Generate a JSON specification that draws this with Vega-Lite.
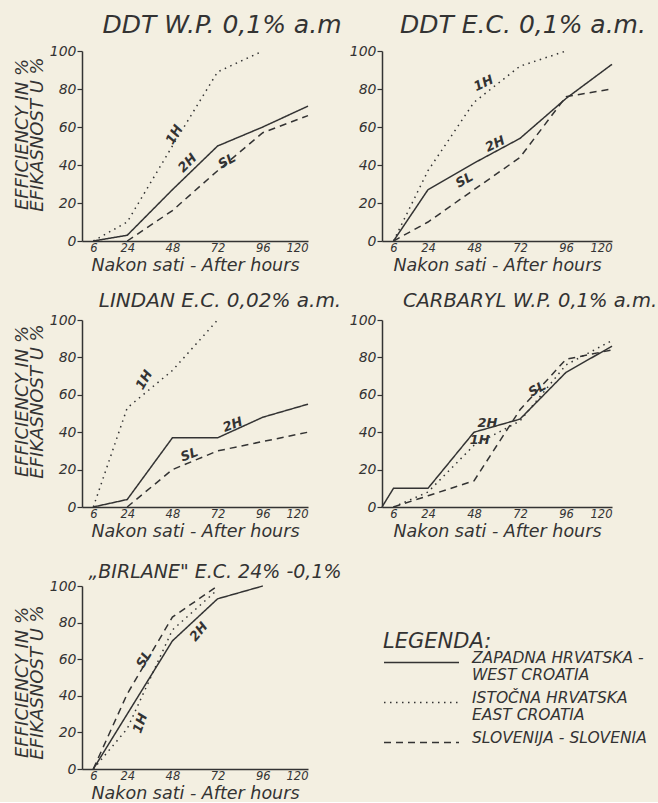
{
  "$schema": "https://vega.github.io/schema/vega-lite/v6.json",
  "background": "#f3efe1",
  "padding": {"left": 13, "top": 13, "right": 0, "bottom": 0},
  "config": {
    "view": {"stroke": null},
    "font": "DejaVu Sans",
    "axis": {"domainColor": "#333", "domainWidth": 1.5, "tickColor": "#333", "tickWidth": 1.2, "labelColor": "#333", "titleColor": "#333", "labelFont": "DejaVu Sans", "labelFontStyle": "italic", "titleFont": "DejaVu Sans", "titleFontStyle": "italic", "titleFontWeight": "normal", "grid": false, "labelOverlap": false},
    "axisX": {"labelFontSize": 11.5, "titleFontSize": 17.5, "ticks": false, "labelPadding": 1, "titlePadding": 3},
    "axisY": {"labelFontSize": 14, "tickSize": 5, "labelPadding": 1, "titleFontSize": 18, "titleLineHeight": 15, "titlePadding": 3},
    "title": {"font": "DejaVu Sans", "fontStyle": "italic", "fontWeight": "normal", "fontSize": 20, "color": "#333"},
    "text": {"font": "DejaVu Sans", "fontStyle": "italic", "fontWeight": "bold", "fontSize": 13, "fill": "#333"},
    "line": {"stroke": "#333", "strokeWidth": 1.5}
  },
  "datasets": {
    "lines": [
      {"panel": "A", "series": "2H", "hour": 6, "value": 0},
      {"panel": "A", "series": "2H", "hour": 24, "value": 3},
      {"panel": "A", "series": "2H", "hour": 48, "value": 27},
      {"panel": "A", "series": "2H", "hour": 72, "value": 50},
      {"panel": "A", "series": "2H", "hour": 96, "value": 60},
      {"panel": "A", "series": "2H", "hour": 120, "value": 71},
      {"panel": "A", "series": "1H", "hour": 6, "value": 0},
      {"panel": "A", "series": "1H", "hour": 24, "value": 10},
      {"panel": "A", "series": "1H", "hour": 48, "value": 50},
      {"panel": "A", "series": "1H", "hour": 72, "value": 89},
      {"panel": "A", "series": "1H", "hour": 96, "value": 100},
      {"panel": "A", "series": "SL", "hour": 24, "value": 0},
      {"panel": "A", "series": "SL", "hour": 48, "value": 16},
      {"panel": "A", "series": "SL", "hour": 72, "value": 37},
      {"panel": "A", "series": "SL", "hour": 96, "value": 57},
      {"panel": "A", "series": "SL", "hour": 120, "value": 66},
      {"panel": "B", "series": "2H", "hour": 6, "value": 0},
      {"panel": "B", "series": "2H", "hour": 24, "value": 27},
      {"panel": "B", "series": "2H", "hour": 48, "value": 41},
      {"panel": "B", "series": "2H", "hour": 72, "value": 54},
      {"panel": "B", "series": "2H", "hour": 96, "value": 75},
      {"panel": "B", "series": "2H", "hour": 120, "value": 93},
      {"panel": "B", "series": "1H", "hour": 6, "value": 0},
      {"panel": "B", "series": "1H", "hour": 24, "value": 37},
      {"panel": "B", "series": "1H", "hour": 48, "value": 73},
      {"panel": "B", "series": "1H", "hour": 72, "value": 92},
      {"panel": "B", "series": "1H", "hour": 96, "value": 100},
      {"panel": "B", "series": "SL", "hour": 6, "value": 0},
      {"panel": "B", "series": "SL", "hour": 24, "value": 10},
      {"panel": "B", "series": "SL", "hour": 48, "value": 27},
      {"panel": "B", "series": "SL", "hour": 72, "value": 44},
      {"panel": "B", "series": "SL", "hour": 96, "value": 76},
      {"panel": "B", "series": "SL", "hour": 120, "value": 80},
      {"panel": "C", "series": "2H", "hour": 6, "value": 0},
      {"panel": "C", "series": "2H", "hour": 24, "value": 4},
      {"panel": "C", "series": "2H", "hour": 48, "value": 37},
      {"panel": "C", "series": "2H", "hour": 72, "value": 37},
      {"panel": "C", "series": "2H", "hour": 96, "value": 48},
      {"panel": "C", "series": "2H", "hour": 120, "value": 55},
      {"panel": "C", "series": "1H", "hour": 6, "value": 0},
      {"panel": "C", "series": "1H", "hour": 24, "value": 53},
      {"panel": "C", "series": "1H", "hour": 48, "value": 73},
      {"panel": "C", "series": "1H", "hour": 72, "value": 100},
      {"panel": "C", "series": "SL", "hour": 24, "value": 0},
      {"panel": "C", "series": "SL", "hour": 48, "value": 20},
      {"panel": "C", "series": "SL", "hour": 72, "value": 30},
      {"panel": "C", "series": "SL", "hour": 96, "value": 35},
      {"panel": "C", "series": "SL", "hour": 120, "value": 40},
      {"panel": "D", "series": "2H", "hour": 0, "value": 0},
      {"panel": "D", "series": "2H", "hour": 6, "value": 10},
      {"panel": "D", "series": "2H", "hour": 24, "value": 10},
      {"panel": "D", "series": "2H", "hour": 48, "value": 40},
      {"panel": "D", "series": "2H", "hour": 72, "value": 47},
      {"panel": "D", "series": "2H", "hour": 96, "value": 72},
      {"panel": "D", "series": "2H", "hour": 120, "value": 86},
      {"panel": "D", "series": "1H", "hour": 6, "value": 0},
      {"panel": "D", "series": "1H", "hour": 24, "value": 8},
      {"panel": "D", "series": "1H", "hour": 48, "value": 33},
      {"panel": "D", "series": "1H", "hour": 72, "value": 46},
      {"panel": "D", "series": "1H", "hour": 96, "value": 76},
      {"panel": "D", "series": "1H", "hour": 120, "value": 89},
      {"panel": "D", "series": "SL", "hour": 6, "value": 0},
      {"panel": "D", "series": "SL", "hour": 24, "value": 6},
      {"panel": "D", "series": "SL", "hour": 48, "value": 14},
      {"panel": "D", "series": "SL", "hour": 72, "value": 52},
      {"panel": "D", "series": "SL", "hour": 96, "value": 79},
      {"panel": "D", "series": "SL", "hour": 120, "value": 84},
      {"panel": "E", "series": "2H", "hour": 6, "value": 0},
      {"panel": "E", "series": "2H", "hour": 24, "value": 30},
      {"panel": "E", "series": "2H", "hour": 48, "value": 70},
      {"panel": "E", "series": "2H", "hour": 72, "value": 93},
      {"panel": "E", "series": "2H", "hour": 96, "value": 100},
      {"panel": "E", "series": "1H", "hour": 6, "value": 0},
      {"panel": "E", "series": "1H", "hour": 24, "value": 22},
      {"panel": "E", "series": "1H", "hour": 48, "value": 76},
      {"panel": "E", "series": "1H", "hour": 72, "value": 98},
      {"panel": "E", "series": "SL", "hour": 6, "value": 0},
      {"panel": "E", "series": "SL", "hour": 24, "value": 41},
      {"panel": "E", "series": "SL", "hour": 48, "value": 83},
      {"panel": "E", "series": "SL", "hour": 72, "value": 100}
    ],
    "labels": [
      {"panel": "A", "series": "1H", "hour": 49, "value": 56},
      {"panel": "A", "series": "2H", "hour": 56, "value": 41},
      {"panel": "A", "series": "SL", "hour": 77, "value": 42},
      {"panel": "B", "series": "1H", "hour": 53, "value": 83},
      {"panel": "B", "series": "2H", "hour": 59, "value": 51},
      {"panel": "B", "series": "SL", "hour": 43, "value": 32},
      {"panel": "C", "series": "1H", "hour": 33, "value": 68},
      {"panel": "C", "series": "2H", "hour": 80, "value": 44},
      {"panel": "C", "series": "SL", "hour": 57, "value": 28},
      {"panel": "D", "series": "2H", "hour": 55, "value": 45},
      {"panel": "D", "series": "1H", "hour": 51, "value": 36},
      {"panel": "D", "series": "SL", "hour": 81, "value": 63},
      {"panel": "E", "series": "SL", "hour": 33, "value": 60},
      {"panel": "E", "series": "2H", "hour": 62, "value": 75},
      {"panel": "E", "series": "1H", "hour": 31, "value": 25}
    ]
  },
  "resolve": {"scale": {"x": "independent", "y": "independent", "strokeDash": "independent"}, "legend": {"strokeDash": "independent"}},
  "bounds": "flush",
  "columns": 2,
  "spacing": {"row": 79, "column": 74},
  "concat": [
    {
      "width": 226, "height": 190,
      "title": {"text": "DDT  W.P.  0,1% a.m", "dx": 27, "fontSize": 25, "offset": 6},
      "encoding": {
        "x": {"field": "hour", "type": "quantitative", "scale": {"domain": [0, 120]}, "axis": {"values": [6, 24, 48, 72, 96, 120], "title": "Nakon sati - After hours"}},
        "y": {"field": "value", "type": "quantitative", "scale": {"domain": [0, 100]}, "axis": {"values": [0, 20, 40, 60, 80, 100], "title": ["EFFICIENCY IN %", "EFIKASNOST U %"], "titleY": 83}}
      },
      "layer": [
        {
          "data": {"name": "lines"},
          "transform": [{"filter": "datum.panel == 'A'"}],
          "mark": {"type": "line"},
          "encoding": {
            "strokeDash": {"field": "series", "type": "nominal", "scale": {"domain": ["2H", "1H", "SL"], "range": [[1, 0], [1.5, 4.5], [7, 5]]}, "legend": null}
          }
        },
        {
          "data": {"name": "labels"},
          "transform": [{"filter": "datum.panel == 'A'"}],
          "mark": {"type": "text"},
          "encoding": {
            "text": {"field": "series"},
            "angle": {"condition": [{"test": "datum.series == '1H'", "value": -60}, {"test": "datum.series == '2H'", "value": -45}], "value": -30}
          }
        }
      ]
    },
    {
      "width": 230, "height": 190,
      "title": {"text": "DDT  E.C.  0,1% a.m.", "dx": 26, "fontSize": 25, "offset": 6},
      "encoding": {
        "x": {"field": "hour", "type": "quantitative", "scale": {"domain": [0, 120]}, "axis": {"values": [6, 24, 48, 72, 96, 120], "title": "Nakon sati - After hours"}},
        "y": {"field": "value", "type": "quantitative", "scale": {"domain": [0, 100]}, "axis": {"values": [0, 20, 40, 60, 80, 100], "title": null}}
      },
      "layer": [
        {
          "data": {"name": "lines"},
          "transform": [{"filter": "datum.panel == 'B'"}],
          "mark": {"type": "line"},
          "encoding": {
            "strokeDash": {"field": "series", "type": "nominal", "scale": {"domain": ["2H", "1H", "SL"], "range": [[1, 0], [1.5, 4.5], [7, 5]]}, "legend": null}
          }
        },
        {
          "data": {"name": "labels"},
          "transform": [{"filter": "datum.panel == 'B'"}],
          "mark": {"type": "text"},
          "encoding": {
            "text": {"field": "series"},
            "angle": {"condition": [{"test": "datum.series == '1H'", "value": -25}, {"test": "datum.series == '2H'", "value": -25}], "value": -30}
          }
        }
      ]
    },
    {
      "width": 226, "height": 187,
      "title": {"text": "LINDAN E.C. 0,02% a.m.", "dx": 25, "fontSize": 20, "offset": 2},
      "encoding": {
        "x": {"field": "hour", "type": "quantitative", "scale": {"domain": [0, 120]}, "axis": {"values": [6, 24, 48, 72, 96, 120], "title": "Nakon sati - After hours"}},
        "y": {"field": "value", "type": "quantitative", "scale": {"domain": [0, 100]}, "axis": {"values": [0, 20, 40, 60, 80, 100], "title": ["EFFICIENCY IN %", "EFIKASNOST U %"], "titleY": 81}}
      },
      "layer": [
        {
          "data": {"name": "lines"},
          "transform": [{"filter": "datum.panel == 'C'"}],
          "mark": {"type": "line"},
          "encoding": {
            "strokeDash": {"field": "series", "type": "nominal", "scale": {"domain": ["2H", "1H", "SL"], "range": [[1, 0], [1.5, 4.5], [7, 5]]}, "legend": null}
          }
        },
        {
          "data": {"name": "labels"},
          "transform": [{"filter": "datum.panel == 'C'"}],
          "mark": {"type": "text"},
          "encoding": {
            "text": {"field": "series"},
            "angle": {"condition": [{"test": "datum.series == '1H'", "value": -60}, {"test": "datum.series == '2H'", "value": -20}], "value": -20}
          }
        }
      ]
    },
    {
      "width": 230, "height": 187,
      "title": {"text": "CARBARYL W.P. 0,1% a.m.", "dx": 33, "fontSize": 19.5, "offset": 2},
      "encoding": {
        "x": {"field": "hour", "type": "quantitative", "scale": {"domain": [0, 120]}, "axis": {"values": [6, 24, 48, 72, 96, 120], "title": "Nakon sati - After hours"}},
        "y": {"field": "value", "type": "quantitative", "scale": {"domain": [0, 100]}, "axis": {"values": [0, 20, 40, 60, 80, 100], "title": null}}
      },
      "layer": [
        {
          "data": {"name": "lines"},
          "transform": [{"filter": "datum.panel == 'D'"}],
          "mark": {"type": "line"},
          "encoding": {
            "strokeDash": {"field": "series", "type": "nominal", "scale": {"domain": ["2H", "1H", "SL"], "range": [[1, 0], [1.5, 4.5], [7, 5]]}, "legend": null}
          }
        },
        {
          "data": {"name": "labels"},
          "transform": [{"filter": "datum.panel == 'D'"}],
          "mark": {"type": "text"},
          "encoding": {
            "text": {"field": "series"},
            "angle": {"condition": [{"test": "datum.series == '1H'", "value": 0}, {"test": "datum.series == '2H'", "value": 0}], "value": -30}
          }
        }
      ]
    },
    {
      "width": 226, "height": 183,
      "title": {"text": "„BIRLANE\" E.C. 24% -0,1%", "dx": 20, "fontSize": 19, "offset": -3},
      "encoding": {
        "x": {"field": "hour", "type": "quantitative", "scale": {"domain": [0, 120]}, "axis": {"values": [6, 24, 48, 72, 96, 120], "title": "Nakon sati - After hours"}},
        "y": {"field": "value", "type": "quantitative", "scale": {"domain": [0, 100]}, "axis": {"values": [0, 20, 40, 60, 80, 100], "title": ["EFFICIENCY IN %", "EFIKASNOST U %"], "titleY": 96}}
      },
      "layer": [
        {
          "data": {"name": "lines"},
          "transform": [{"filter": "datum.panel == 'E'"}],
          "mark": {"type": "line"},
          "encoding": {
            "strokeDash": {
              "field": "series", "type": "nominal",
              "scale": {"domain": ["2H", "1H", "SL"], "range": [[1, 0], [1.5, 4.5], [7, 5]]},
              "legend": {
                "orient": "none", "legendX": 301, "legendY": 45,
                "title": "LEGENDA:", "titleFont": "DejaVu Sans", "titleFontStyle": "italic", "titleFontWeight": "normal", "titleFontSize": 21, "titleColor": "#333", "titlePadding": 2,
                "symbolType": "M-1,0H9", "symbolSize": 225, "symbolStrokeWidth": 1.5, "symbolStrokeColor": "#333",
                "labelFont": "DejaVu Sans", "labelFontStyle": "italic", "labelFontSize": 15.5, "labelColor": "#333", "labelOffset": 72, "labelLimit": 300, "labelBaseline": "alphabetic",
                "rowPadding": 6,
                "labelExpr": "datum.label == '2H' ? ['ZAPADNA HRVATSKA -', '   WEST CROATIA'] : datum.label == '1H' ? ['ISTOČNA HRVATSKA', '   EAST CROATIA'] : 'SLOVENIJA - SLOVENIA'"
              }
            }
          }
        },
        {
          "data": {"name": "labels"},
          "transform": [{"filter": "datum.panel == 'E'"}],
          "mark": {"type": "text"},
          "encoding": {
            "text": {"field": "series"},
            "angle": {"condition": [{"test": "datum.series == '1H'", "value": -70}, {"test": "datum.series == '2H'", "value": -50}], "value": -60}
          }
        }
      ]
    }
  ]
}
